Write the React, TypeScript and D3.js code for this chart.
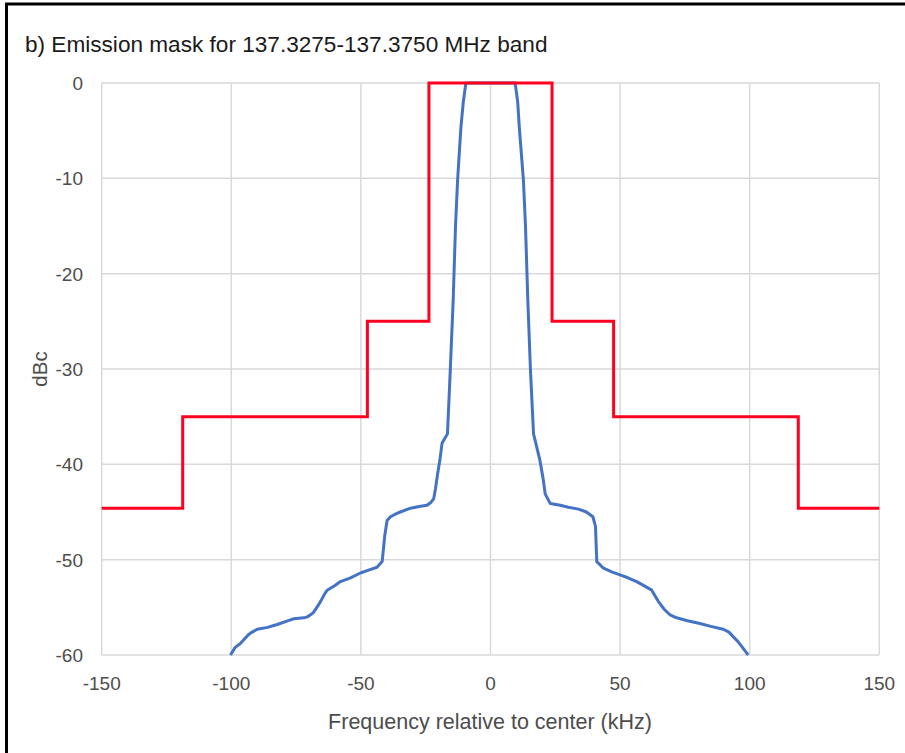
import React from "react";
import * as d3 from "d3";

const title = "b) Emission mask for 137.3275-137.3750 MHz band";
const xLabel = "Frequency relative to center (kHz)";
const yLabel = "dBc";
const xTicks = [-150, -100, -50, 0, 50, 100, 150];
const yTicks = [0, -10, -20, -30, -40, -50, -60];

// Mask steps (kHz breakpoints, level after breakpoint)
const maskX = [-150, -118.75, -47.5, -23.75, 23.75, 47.5, 118.75, 150];
const maskY = [-44.6, -35, -25, 0, -25, -35, -44.6, -44.6];

// Measured spectrum (kHz, dBc)
const specX = [
  -100.3, -98.5, -96.5, -95.2, -93.5, -92.6, -90, -86, -82.3, -78, -75.9, -72, -70.7, -69, -68.2, -66.5, -65.6, -64, -63,
  -60, -57.9, -54, -50.2, -47, -43.8, -41.8, -40.8, -39.9, -38.6, -36.5, -34.8, -30.9, -27, -24.5, -23, -21.9, -21.2,
  -20.4, -19.5, -18.7, -16.6, -15.5, -14.4, -13.5, -12.7, -11.4, -10.5, -9.5,
  9.5, 10.5, 11.1, 12.7, 13.5, 14.4, 15.4, 16.6, 17.5, 19, 20.3, 21.1, 23, 26.9, 30, 34, 37, 39.5, 40.5, 41, 43.6, 47,
  50, 53, 56.4, 59, 62.2, 63.5, 64.8, 67, 69.3, 71.8, 76, 80.8, 85, 89.8, 92, 93.7, 95.5, 96.9, 98.3, 99.4,
];
const specY = [
  -60, -59.2, -58.8, -58.4, -57.9, -57.7, -57.3, -57.1, -56.8, -56.4, -56.2, -56.1, -56, -55.7, -55.5, -54.8, -54.4, -53.6,
  -53.2, -52.7, -52.3, -51.9, -51.4, -51.1, -50.8, -50.2, -47.5, -45.9, -45.5, -45.2, -45, -44.6, -44.4, -44.3, -44,
  -43.6, -42.5, -41, -39.5, -37.8, -36.8, -30, -22.8, -15, -10.2, -4.6, -2, 0,
  0, -2, -4.6, -10.2, -15, -22.8, -30, -36.8, -37.8, -39.5, -41.5, -43.1, -44.1, -44.3, -44.5, -44.7, -45, -45.5, -46.5,
  -50.2, -50.9, -51.3, -51.6, -51.9, -52.3, -52.7, -53.2, -53.8, -54.4, -55.2, -55.8, -56.1, -56.4, -56.7, -57, -57.3,
  -57.6, -58.1, -58.6, -59.1, -59.6, -60,
];

const W = 905;
const H = 753;
const FONT = "'Liberation Sans', Arial, sans-serif";
const TEXT = "#4d4d4d";

export default function App() {
  const x = d3.scaleLinear().domain([-150, 150]).range([101.7, 879.3]);
  const y = d3.scaleLinear().domain([-60, 0]).range([655, 83]);

  const maskPts: [number, number][] = maskX.map((v, i) => [v, maskY[i]]);
  const specPts: [number, number][] = specX.map((v, i) => [v, specY[i]]);

  const maskPath = d3
    .line<[number, number]>()
    .x((d) => x(d[0]))
    .y((d) => y(d[1]))
    .curve(d3.curveStepAfter)(maskPts) as string;
  const specPath = d3
    .line<[number, number]>()
    .x((d) => x(d[0]))
    .y((d) => y(d[1]))(specPts) as string;

  const [x0, x1] = x.range();
  const [y0, y1] = y.range();

  return (
    <svg
      width={W}
      height={H}
      style={{ position: "absolute", left: 0, top: 0, background: "#fff" }}
      fontFamily={FONT}
    >
      <rect x={0} y={0} width={W} height={H} fill="#fff" />
      {/* frame */}
      <line x1={5} x2={W} y1={4} y2={4} stroke="#000" strokeWidth={3} />
      <line x1={6.5} x2={6.5} y1={3} y2={H} stroke="#000" strokeWidth={3} />

      <text x={25} y={52} fontSize={22.6} fill="#1a1a1a">
        {title}
      </text>

      {/* grid */}
      {xTicks.map((t) => (
        <line key={"gx" + t} x1={x(t)} x2={x(t)} y1={y1} y2={y0} stroke="#d9d9d9" strokeWidth={1.5} />
      ))}
      {yTicks.map((t) => (
        <line key={"gy" + t} x1={x0} x2={x1} y1={y(t)} y2={y(t)} stroke="#d9d9d9" strokeWidth={1.5} />
      ))}

      {/* y tick labels */}
      {yTicks.map((t) => (
        <text key={"ty" + t} x={83} y={y(t)} dy="0.36em" textAnchor="end" fontSize={19} fill={TEXT}>
          {t}
        </text>
      ))}
      {/* x tick labels */}
      {xTicks.map((t) => (
        <text key={"tx" + t} x={x(t)} y={690} textAnchor="middle" fontSize={19} fill={TEXT}>
          {t}
        </text>
      ))}

      <text x={490} y={729} textAnchor="middle" fontSize={21.5} fill={TEXT}>
        {xLabel}
      </text>
      <text
        transform={`translate(47,369) rotate(-90)`}
        textAnchor="middle"
        fontSize={20.5}
        fill={TEXT}
      >
        {yLabel}
      </text>

      <path d={specPath} fill="none" stroke="#4472c4" strokeWidth={3} strokeLinejoin="round" />
      <path d={maskPath} fill="none" stroke="#ff0020" strokeWidth={3} />
    </svg>
  );
}
